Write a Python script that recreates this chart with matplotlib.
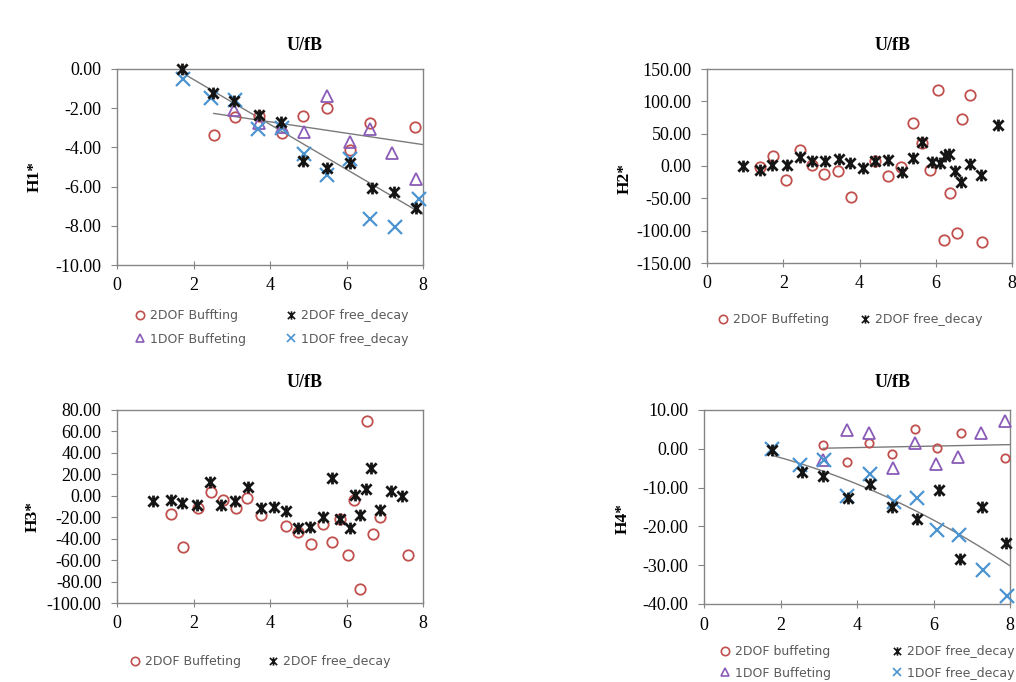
import numpy as np
import matplotlib
matplotlib.use("Agg")
import matplotlib.pyplot as plt
from matplotlib.path import Path
from matplotlib.lines import Line2D

plt.rcParams['axes.unicode_minus'] = False

# ---------------- data ----------------
# H1*
h1_fd2_x = [1.70, 2.50, 3.05, 3.72, 4.30, 4.85, 5.48, 6.09, 6.66, 7.25, 7.81]
h1_fd2_y = [0.00, -1.25, -1.65, -2.33, -2.70, -4.70, -5.05, -4.82, -6.05, -6.27, -7.08]
h1_fd1_x = [1.73, 2.46, 3.08, 3.68, 4.32, 4.90, 5.48, 6.09, 6.61, 7.27, 7.90]
h1_fd1_y = [-0.51, -1.48, -1.57, -3.07, -3.02, -4.33, -5.42, -4.58, -7.63, -8.04, -6.62]
h1_b2_x = [2.53, 3.09, 3.72, 4.32, 4.86, 5.48, 6.09, 6.61, 7.80]
h1_b2_y = [-3.39, -2.45, -2.40, -3.25, -2.42, -1.98, -4.12, -2.76, -2.98]
h1_b1_x = [3.05, 3.72, 4.32, 4.90, 5.48, 6.09, 6.61, 7.20, 7.83]
h1_b1_y = [-2.08, -2.75, -2.98, -3.19, -1.40, -3.70, -3.07, -4.29, -5.60]

# H2*
h2_fd2_x = [0.94, 1.40, 1.70, 2.10, 2.45, 2.75, 3.10, 3.45, 3.76, 4.09, 4.41, 4.75,
            5.12, 5.41, 5.64, 5.91, 6.12, 6.25, 6.34, 6.51, 6.67, 6.90, 7.19, 7.64]
h2_fd2_y = [0, -6, 2, 1, 14, 8, 8, 11, 4, -3, 8, 9,
            -9, 12, 37, 6, 4, 15, 18, -7, -24, 3, -14, 64]
h2_b2_x = [1.39, 1.72, 2.08, 2.43, 2.76, 3.08, 3.43, 3.77, 4.41, 4.76, 5.10,
           5.41, 5.64, 5.85, 6.06, 6.22, 6.38, 6.55, 6.70, 6.91, 7.22]
h2_b2_y = [-2, 15, -21, 24, 2, -12, -8, -48, 8, -15, -1,
           67, 36, -6, 118, -114, -42, -103, 73, 110, -118]

# H3*
h3_fd2_x = [0.94, 1.40, 1.71, 2.10, 2.43, 2.73, 3.09, 3.43, 3.76, 4.10, 4.42, 4.74,
            5.05, 5.38, 5.62, 5.83, 6.08, 6.21, 6.34, 6.50, 6.64, 6.88, 7.17, 7.46]
h3_fd2_y = [-4.7, -4.0, -7.0, -8.7, 13.0, -9.0, -4.7, 8.4, -11.8, -10.0, -14.0, -30.0,
            -29.0, -20.0, 17.0, -22.0, -30.5, 1.0, -18.0, 6.5, 25.5, -13.5, 4.2, -0.4]
h3_b2_x = [1.42, 1.73, 2.12, 2.45, 2.76, 3.10, 3.41, 3.76, 4.41, 4.74, 5.08,
           5.39, 5.61, 5.83, 6.04, 6.20, 6.35, 6.53, 6.69, 6.88, 7.62]
h3_b2_y = [-17.0, -48.0, -11.0, 3.7, -4.0, -11.0, -2.5, -18.0, -28.4, -33.7, -44.6,
           -26.5, -43.0, -22.0, -54.8, -4.0, -86.8, 70.0, -35.9, -19.7, -54.8]

# H4*
h4_fd2_x = [1.77, 2.55, 3.12, 3.76, 4.34, 4.92, 5.56, 6.14, 6.69, 7.28, 7.89]
h4_fd2_y = [-0.3, -6.1, -6.9, -12.6, -9.2, -14.9, -18.0, -10.5, -28.5, -15.1, -24.2]
h4_fd1_x = [1.77, 2.51, 3.15, 3.75, 4.34, 4.97, 5.56, 6.08, 6.66, 7.30, 7.91]
h4_fd1_y = [-0.1, -4.1, -2.9, -12.2, -6.5, -13.8, -12.8, -20.9, -22.2, -31.2, -38.0]
h4_b2_x = [3.12, 3.73, 4.31, 4.92, 5.52, 6.10, 6.72, 7.87]
h4_b2_y = [1.0, -3.4, 1.4, -1.4, 5.0, 0.1, 4.2, -2.4]
h4_b1_x = [3.12, 3.73, 4.31, 4.95, 5.52, 6.06, 6.63, 7.24, 7.87]
h4_b1_y = [-2.8, 4.8, 4.0, -5.0, 1.4, -3.8, -2.0, 4.2, 7.2]

x_ticks = [0, 2, 4, 6, 8]
title_text = "U/fB"

# ---------------- styling ----------------
W, H = 1016, 682
fig = plt.figure(figsize=(W / 100, H / 100), dpi=100)

RED = '#C0504D'
PURPLE = '#8A5CB8'
BLUE = '#4B94D0'
BLACK = '#151515'
GRAY = '#858585'
TREND = '#7a7a7a'
SERIF = 'Liberation Serif'
TICK_FS = 13

star = Path([(-1, -1), (1, 1), (-1, 1), (1, -1), (0, -1.15), (0, 1.15)],
            [Path.MOVETO, Path.LINETO, Path.MOVETO, Path.LINETO, Path.MOVETO, Path.LINETO])

styles = {
    'b2': dict(marker='o', mfc='none', mec=RED, ms=7.5, mew=1.3),
    'b1': dict(marker='^', mfc='none', mec=PURPLE, ms=8.5, mew=1.3),
    'fd2': dict(marker=star, mfc='none', mec=BLACK, ms=8.5, mew=2.0),
    'fd1': dict(marker='x', mfc='none', mec=BLUE, ms=9.5, mew=1.6),
}


def make_axes(l, r, t, b):
    ax = fig.add_axes([l / W, 1 - b / H, (r - l) / W, (b - t) / H])
    for s in ax.spines.values():
        s.set_color(GRAY)
        s.set_linewidth(1.0)
    ax.set_xlim(0, 8)
    ax.set_xticks(x_ticks)
    ax.set_xticklabels([str(v) for v in x_ticks])
    ax.tick_params(axis='x', direction='inout', length=6, color=GRAY, labelsize=TICK_FS,
                   pad=6)
    ax.tick_params(axis='y', direction='out', length=4, color=GRAY, labelsize=TICK_FS,
                   pad=7)
    for lab in ax.get_xticklabels() + ax.get_yticklabels():
        lab.set_fontfamily(SERIF)
    return ax


def setup_y(ax, lo, hi, step):
    ticks = np.arange(lo, hi + step / 2, step)
    ax.set_ylim(lo, hi)
    ax.set_yticks(ticks)
    ax.set_yticklabels(['%.2f' % v for v in ticks], fontfamily=SERIF, fontsize=TICK_FS)


def scatter(ax, x, y, key, z=3, **kw):
    st = dict(styles[key])
    st.update(kw)
    ax.plot(x, y, linestyle='none', clip_on=False, zorder=z, **st)


def trend(ax, xs, ys, deg, x_end=8):
    xs = np.asarray(xs, float)
    ys = np.asarray(ys, float)
    c = np.polyfit(xs, ys, deg)
    xx = np.linspace(xs.min(), x_end, 100)
    ax.plot(xx, np.polyval(c, xx), color=TREND, lw=1.0, zorder=2)


def labels(ax, tx, ty, ylab, lx, ly):
    fig.text(tx / W, 1 - ty / H, title_text, ha='center', va='center',
             fontfamily=SERIF, fontweight='bold', fontsize=13)
    fig.text(lx / W, 1 - ly / H, ylab, ha='center', va='center', rotation=90,
             fontfamily=SERIF, fontweight='bold', fontsize=12.5)


def entry(key, label, mx, my, ms=6):
    st = dict(styles[key])
    st['ms'] = ms
    st['mew'] = min(st['mew'], 1.2)
    h = Line2D([], [], linestyle='none', **st)
    fs = 9
    hl = 0.9
    x0 = mx - hl * fs * 100 / 72 / 2
    fig.legend([h], [label], loc='center left', bbox_to_anchor=(x0 / W, 1 - my / H),
               frameon=False, handlelength=hl, handletextpad=0.35, borderpad=0,
               borderaxespad=0, prop={'family': 'DejaVu Sans', 'size': fs},
               labelcolor='#5a5a5a')


# ---------------- panel 1: H1* ----------------
ax1 = make_axes(117, 423, 69, 265)
setup_y(ax1, -10, 0, 2)
trend(ax1, h1_fd2_x, h1_fd2_y, 1)
trend(ax1, h1_b2_x + h1_b1_x, h1_b2_y + h1_b1_y, 1)
scatter(ax1, h1_b2_x, h1_b2_y, 'b2')
scatter(ax1, h1_b1_x, h1_b1_y, 'b1')
scatter(ax1, h1_fd1_x, h1_fd1_y, 'fd1')
scatter(ax1, h1_fd2_x, h1_fd2_y, 'fd2')
labels(ax1, 305, 45, 'H1*', 35, 177)
entry('b2', '2DOF Buffting', 140, 316)
entry('fd2', '2DOF free_decay', 291, 316)
entry('b1', '1DOF Buffeting', 140, 339)
entry('fd1', '1DOF free_decay', 291, 339)

# ---------------- panel 2: H2* ----------------
ax2 = make_axes(707, 1012, 69, 263)
setup_y(ax2, -150, 150, 50)
scatter(ax2, h2_b2_x, h2_b2_y, 'b2')
scatter(ax2, h2_fd2_x, h2_fd2_y, 'fd2')
labels(ax2, 893, 45, 'H2*', 625, 178)
entry('b2', '2DOF Buffeting', 723, 320)
entry('fd2', '2DOF free_decay', 865, 320)

# ---------------- panel 3: H3* ----------------
ax3 = make_axes(117, 423, 410, 603)
setup_y(ax3, -100, 80, 20)
scatter(ax3, h3_b2_x, h3_b2_y, 'b2')
scatter(ax3, h3_fd2_x, h3_fd2_y, 'fd2')
labels(ax3, 305, 383, 'H3*', 33, 517)
entry('b2', '2DOF Buffeting', 135, 662)
entry('fd2', '2DOF free_decay', 273, 662)

# ---------------- panel 4: H4* ----------------
ax4 = make_axes(704, 1010, 410, 604)
setup_y(ax4, -40, 10, 10)
trend(ax4, h4_b2_x, h4_b2_y, 1)
trend(ax4, h4_fd2_x + h4_fd1_x, h4_fd2_y + h4_fd1_y, 2)
scatter(ax4, h4_b2_x, h4_b2_y, 'b2', ms=6)
scatter(ax4, h4_b1_x, h4_b1_y, 'b1')
scatter(ax4, h4_fd1_x, h4_fd1_y, 'fd1')
scatter(ax4, h4_fd2_x, h4_fd2_y, 'fd2')
labels(ax4, 893, 383, 'H4*', 623, 518)
entry('b2', '2DOF buffeting', 725, 652)
entry('fd2', '2DOF free_decay', 897, 652)
entry('b1', '1DOF Buffeting', 725, 673)
entry('fd1', '1DOF free_decay', 897, 673)

fig.savefig('out.png', dpi=100, facecolor='white')
